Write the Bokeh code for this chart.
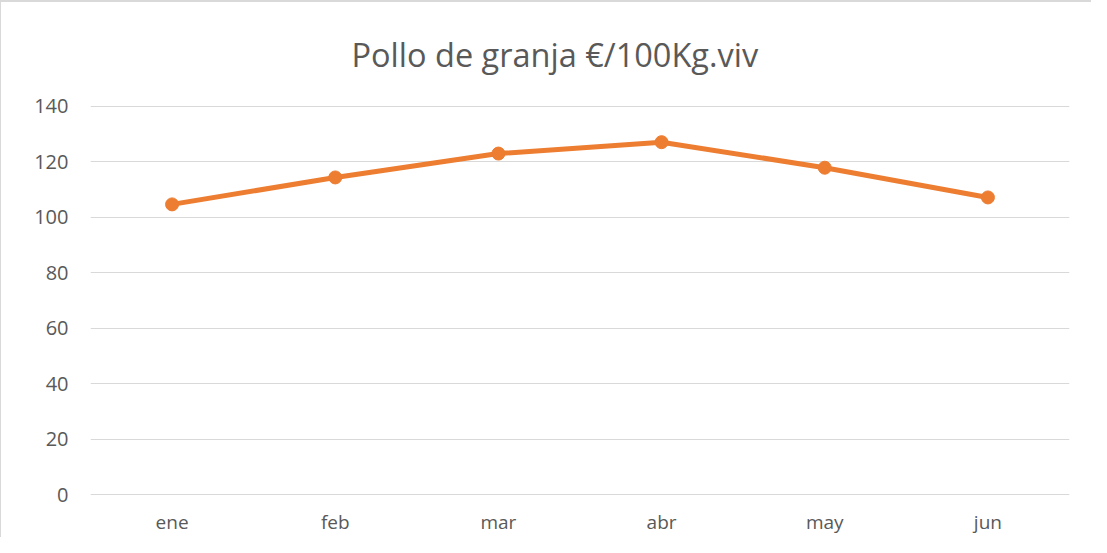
from bokeh.plotting import figure
from bokeh.models import Range1d, FactorRange, Title
from bokeh.embed import file_html
from bokeh.resources import INLINE

months = ["ene", "feb", "mar", "abr", "may", "jun"]
prices = [104.6, 114.3, 122.9, 127.0, 117.8, 107.1]
y_ticks = [0, 20, 40, 60, 80, 100, 120, 140]
title_text = "Pollo de granja €/100Kg.viv"

FONT = "Open Sans"
TXT = "#595959"
ORANGE = "#ED7D31"

p = figure(width=1091, height=537, output_backend="svg", toolbar_location=None,
           x_range=FactorRange(*months, range_padding=0), y_range=Range1d(-0.2, 140.2),
           min_border_left=90, min_border_right=22, min_border_top=105, min_border_bottom=41)

p.title = Title(text=title_text, align="left", text_font=FONT, text_font_size="32.5px",
                text_font_style="normal", text_color=TXT, standoff=58, offset=261)

p.line(months, prices, line_color=ORANGE, line_width=5)
p.scatter(months, prices, size=13, fill_color=ORANGE, line_color=ORANGE)

p.outline_line_color = None
p.border_fill_color = None
p.background_fill_color = "white"
p.xgrid.grid_line_color = None
p.ygrid.grid_line_color = "#D9D9D9"
p.ygrid.grid_line_width = 1
p.yaxis.ticker = y_ticks

for ax in (p.xaxis, p.yaxis):
    ax.axis_line_color = None
    ax.major_tick_line_color = None
    ax.minor_tick_line_color = None
    ax.major_tick_out = 0
    ax.major_tick_in = 0
    ax.major_label_text_font = FONT
    ax.major_label_text_color = TXT

p.yaxis.major_label_text_font_size = "20px"
p.xaxis.major_label_text_font_size = "19px"
p.yaxis.major_label_standoff = 22
p.xaxis.major_label_standoff = 13
p.styles = {"background-color": "white", "box-shadow": "inset 3px 4px 0 -2px #D9D9D9"}

open("out.html", "w").write(file_html(p, INLINE))
